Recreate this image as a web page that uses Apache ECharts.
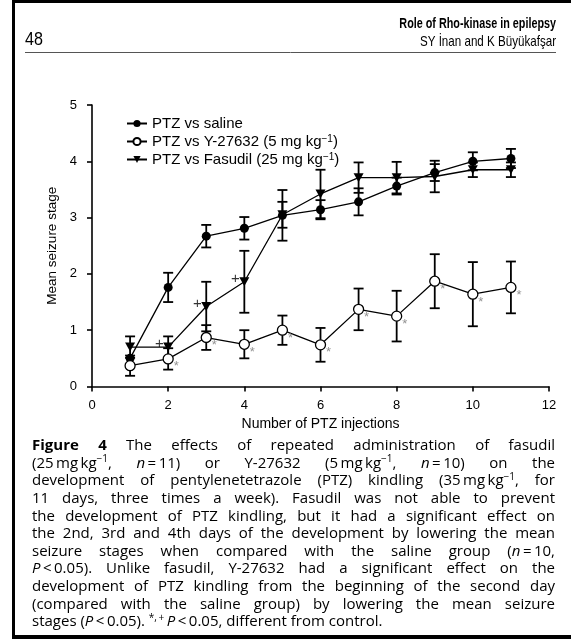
<!DOCTYPE html>
<html>
<head>
<meta charset="utf-8">
<script src="https://cdn.jsdelivr.net/npm/echarts@6/dist/echarts.min.js"></script>
<style>html,body{margin:0;padding:0;background:#fff}#c{width:571px;height:639px}</style>
</head>
<body>
<div id="c"></div>
<script>
// ---------- data ----------
const injections   = [1, 2, 3, 4, 5, 6, 7, 8, 9, 10, 11];
const salineMean   = [0.50, 1.76, 2.67, 2.81, 3.04, 3.14, 3.28, 3.56, 3.80, 4.00, 4.05];
const salineSem    = [0.00, 0.26, 0.20, 0.20, 0.45, 0.17, 0.24, 0.15, 0.15, 0.16, 0.17];
const y27632Mean   = [0.37, 0.49, 0.87, 0.75, 1.00, 0.74, 1.37, 1.25, 1.87, 1.64, 1.76];
const y27632Sem    = [0.18, 0.19, 0.22, 0.25, 0.26, 0.30, 0.37, 0.45, 0.48, 0.57, 0.46];
const fasudilMean  = [0.70, 0.70, 1.42, 1.86, 3.05, 3.42, 3.71, 3.71, 3.73, 3.85, 3.85];
const fasudilSem   = [0.19, 0.19, 0.44, 0.55, 0.23, 0.43, 0.27, 0.28, 0.28, 0.13, 0.13];
const y27632Star   = [0, 1, 1, 1, 1, 1, 1, 1, 1, 1, 1];
const fasudilPlus  = [0, 1, 1, 1, 0, 0, 0, 0, 0, 0, 0];
const seriesNames  = ['PTZ vs saline', 'PTZ vs Y-27632', 'PTZ vs Fasudil'];
const legendLabels = ['PTZ vs saline', 'PTZ vs Y-27632 (5 mg kg{sup|\u22121})', 'PTZ vs Fasudil (25 mg kg{sup|\u22121})'];
const xAxisName = 'Number of PTZ injections';
const yAxisName = 'Mean seizure stage';
const headerTitle = 'Role of Rho-kinase in epilepsy';
const headerAuthors = 'SY \u0130nan and K B\u00fcy\u00fckaf\u015far';
const pageNumber = '48';
const T = '\u2009';
const captionLines = [
  '{b|Figure} {b|4} The effects of repeated administration of fasudil',
  '(25'+T+'mg'+T+'kg{s|\u22121}, {i|n}'+T+'='+T+'11) or Y-27632 (5'+T+'mg'+T+'kg{s|\u22121}, {i|n}'+T+'='+T+'10) on the',
  'development of pentylenetetrazole (PTZ) kindling (35'+T+'mg'+T+'kg{s|\u22121}, for',
  '11 days, three times a week). Fasudil was not able to prevent',
  'the development of PTZ kindling, but it had a significant effect on',
  'the 2nd, 3rd and 4th days of the development by lowering the mean',
  'seizure stages when compared with the saline group ({i|n}'+T+'='+T+'10,',
  '{i|P}'+T+'<'+T+'0.05). Unlike fasudil, Y-27632 had a significant effect on the',
  'development of PTZ kindling from the beginning of the second day',
  '(compared with the saline group) by lowering the mean seizure',
  'stages ({i|P}'+T+'<'+T+'0.05). {s|*,'+T+'+}'+T+'{i|P}'+T+'<'+T+'0.05, different from control.'
];

// ---------- helpers ----------
const chartFont = '"Liberation Sans", Arial, Helvetica, sans-serif';
const capFamily = '"Open Sans", "Noto Sans", sans-serif';
const capSize = 15;
const capFonts = {
  n: {fontStyle: 'normal', fontWeight: 400, fontSize: capSize},
  b: {fontStyle: 'normal', fontWeight: 700, fontSize: capSize},
  i: {fontStyle: 'italic', fontWeight: 400, fontSize: capSize},
  s: {fontStyle: 'normal', fontWeight: 400, fontSize: 10}
};
const ctx = document.createElement('canvas').getContext('2d');
function parseWord(w) {
  const segs = []; const re = /\{(\w)\|([^}]*)\}|([^{]+)/g; let m;
  while ((m = re.exec(w))) { if (m[3] !== undefined) segs.push({k: 'n', t: m[3]}); else segs.push({k: m[1], t: m[2]}); }
  return segs;
}
function measure(w) {
  let s = 0;
  parseWord(w).forEach(seg => {
    const f = capFonts[seg.k];
    ctx.font = f.fontStyle + ' ' + f.fontWeight + ' ' + f.fontSize + 'px ' + capFamily;
    s += ctx.measureText(seg.t).width;
  });
  return s;
}
const capRich = {
  b: {fontFamily: capFamily, fontSize: capSize, fontWeight: 700, lineHeight: 18},
  i: {fontFamily: capFamily, fontSize: capSize, fontStyle: 'italic', lineHeight: 18},
  s: {fontFamily: capFamily, fontSize: 10, verticalAlign: 'top', lineHeight: 9}
};
const capLeft = 32, capRight = 555, capTop = 446, capStep = 17.6;
const captionGraphics = [];
captionLines.forEach((line, li) => {
  const words = line.split(' ');
  const widths = words.map(measure);
  const total = widths.reduce((a, b) => a + b, 0);
  ctx.font = '400 ' + capSize + 'px ' + capFamily;
  const last = li === captionLines.length - 1;
  const gap = last ? ctx.measureText(' ').width : (capRight - capLeft - total) / (words.length - 1);
  let x = capLeft;
  const y = capTop + li * capStep;
  words.forEach((w, wi) => {
    captionGraphics.push({
      type: 'text', x: x, y: y, silent: true,
      style: {text: w, fontFamily: capFamily, fontSize: capSize, fontWeight: 400, lineHeight: 18,
              fill: '#000', align: 'left', verticalAlign: 'middle', rich: capRich}
    });
    x += widths[wi] + gap;
  });
});

function errorSeries(mean, sem, name) {
  return {
    type: 'custom', name: name, z: 1, silent: true,
    data: injections.map((x, i) => [x, mean[i] - sem[i], mean[i] + sem[i]]),
    encode: {x: 0, y: [1, 2]},
    renderItem: function (params, api) {
      const x = api.value(0);
      const lo = api.coord([x, api.value(1)]);
      const hi = api.coord([x, api.value(2)]);
      if (Math.abs(lo[1] - hi[1]) < 0.5) return {type: 'group', children: []};
      const w = 5;
      const st = {stroke: '#000', lineWidth: 1.8};
      return {type: 'group', children: [
        {type: 'line', shape: {x1: lo[0], y1: lo[1], x2: hi[0], y2: hi[1]}, style: st},
        {type: 'line', shape: {x1: lo[0] - w, y1: lo[1], x2: lo[0] + w, y2: lo[1]}, style: st},
        {type: 'line', shape: {x1: hi[0] - w, y1: hi[1], x2: hi[0] + w, y2: hi[1]}, style: st}
      ]};
    }
  };
}
function pairs(mean) { return injections.map((x, i) => [x, mean[i]]); }

const chart = echarts.init(document.getElementById('c'), null, {renderer: 'canvas'});
chart.setOption({
  animation: false,
  backgroundColor: '#fff',
  textStyle: {fontFamily: chartFont, color: '#000'},
  grid: {left: 92, right: 22, top: 105, bottom: 252.5, outerBoundsMode: 'none', containLabel: false},
  legend: {
    data: seriesNames, orient: 'vertical', left: 121, top: 111,
    itemWidth: 20, itemHeight: 9, itemGap: 3, selectedMode: false,
    formatter: function (name) { return legendLabels[seriesNames.indexOf(name)]; },
    textStyle: {fontFamily: chartFont, fontSize: 15, color: '#000', padding: [0, 0, 0, 0],
      rich: {sup: {fontFamily: chartFont, fontSize: 10, verticalAlign: 'top', lineHeight: 8, color: '#000'}}}
  },
  xAxis: {
    type: 'value', min: 0, max: 12, interval: 2,
    name: xAxisName, nameLocation: 'middle', nameGap: 31,
    nameTextStyle: {fontSize: 14, color: '#000', fontFamily: chartFont},
    axisLine: {show: true, lineStyle: {color: '#000', width: 1.6}},
    axisTick: {show: true, inside: false, length: 5, lineStyle: {color: '#000', width: 1.6}},
    axisLabel: {fontSize: 13, color: '#000', margin: 12, fontFamily: chartFont},
    splitLine: {show: false}
  },
  yAxis: {
    type: 'value', min: 0, max: 5, interval: 1,
    name: yAxisName, nameLocation: 'middle', nameGap: 26, nameRotate: 90,
    nameTextStyle: {fontSize: 13.5, color: '#000', fontFamily: chartFont},
    axisLine: {show: true, lineStyle: {color: '#000', width: 1.6}},
    axisTick: {show: true, inside: false, length: 5, lineStyle: {color: '#000', width: 1.6}},
    axisLabel: {fontSize: 13, color: '#000', margin: 15, fontFamily: chartFont},
    splitLine: {show: false}
  },
  graphic: [
    {type: 'rect', silent: true, shape: {x: 12, y: 0, width: 559, height: 3}, style: {fill: '#000'}},
    {type: 'rect', silent: true, shape: {x: 12, y: 0, width: 3, height: 639}, style: {fill: '#000'}},
    {type: 'rect', silent: true, shape: {x: 12, y: 635, width: 559, height: 4}, style: {fill: '#000'}},
    {type: 'text', silent: true, x: 556, y: 24, scaleX: 0.72, style: {text: headerTitle, fontFamily: chartFont, fontWeight: 'bold', fontSize: 15, fill: '#000', align: 'right', verticalAlign: 'middle'}},
    {type: 'text', silent: true, x: 556, y: 42, scaleX: 0.8, style: {text: headerAuthors, fontFamily: chartFont, fontSize: 14.5, fill: '#000', align: 'right', verticalAlign: 'middle'}},
    {type: 'text', silent: true, x: 25, y: 40, scaleX: 0.85, style: {text: pageNumber, fontFamily: chartFont, fontSize: 19, fill: '#000', align: 'left', verticalAlign: 'middle'}},
    {type: 'line', silent: true, shape: {x1: 25, y1: 52.5, x2: 556, y2: 52.5}, style: {stroke: '#555', lineWidth: 1}}
  ].concat(captionGraphics),
  series: [
    errorSeries(salineMean, salineSem, 'saline err'),
    errorSeries(fasudilMean, fasudilSem, 'fasudil err'),
    errorSeries(y27632Mean, y27632Sem, 'y err'),
    {
      type: 'line', name: seriesNames[0], data: pairs(salineMean), z: 3,
      symbol: 'circle', symbolSize: 9, showAllSymbol: true,
      itemStyle: {color: '#000'}, lineStyle: {color: '#000', width: 1.3}
    },
    {
      type: 'line', name: seriesNames[2], data: pairs(fasudilMean), z: 3,
      symbol: 'triangle', symbolRotate: 180, symbolSize: [10, 9], showAllSymbol: true,
      itemStyle: {color: '#000'}, lineStyle: {color: '#000', width: 1.3}
    },
    {
      type: 'line', name: seriesNames[1], data: pairs(y27632Mean), z: 4,
      symbol: 'circle', symbolSize: 10, showAllSymbol: true,
      itemStyle: {color: '#fff', borderColor: '#000', borderWidth: 1.3}, lineStyle: {color: '#000', width: 1.3}
    },
    {
      type: 'scatter', name: 'stars', z: 5, silent: true, symbolSize: 1,
      data: injections.map((x, i) => [x, y27632Mean[i], y27632Star[i]]).filter(d => d[2]),
      itemStyle: {color: 'rgba(0,0,0,0)'},
      label: {show: true, position: 'right', distance: 5, offset: [0, 8], formatter: '*', color: '#777', fontSize: 13, fontFamily: chartFont}
    },
    {
      type: 'scatter', name: 'plus', z: 5, silent: true, symbolSize: 1,
      data: injections.map((x, i) => [x, fasudilMean[i], fasudilPlus[i]]).filter(d => d[2]),
      itemStyle: {color: 'rgba(0,0,0,0)'},
      label: {show: true, position: 'left', distance: 4, offset: [0, -3], formatter: '+', color: '#000', fontSize: 15, fontFamily: chartFont}
    }
  ]
});
</script>
</body>
</html>
